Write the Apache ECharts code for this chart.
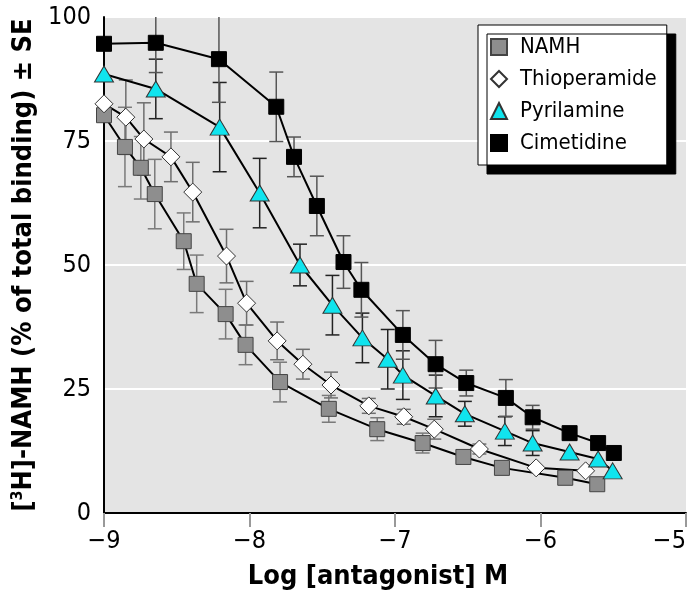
<!DOCTYPE html>
<html>
<head>
<meta charset="utf-8">
<script src="https://cdn.jsdelivr.net/npm/echarts@6/dist/echarts.min.js"></script>
<style>
  html, body { margin: 0; padding: 0; background: #fff; }
  #main { width: 695px; height: 600px; }
</style>
</head>
<body>
<div id="main"></div>
<script>
// log [antagonist] M and % of total binding
var xNamh = [-9, -8.856, -8.747, -8.651, -8.452, -8.363, -8.164, -8.027, -7.79, -7.455, -7.122, -6.81, -6.53, -6.265, -5.83, -5.61];
var yNamh = [80.2, 73.8, 69.6, 64.3, 54.8, 46.2, 40.1, 33.9, 26.4, 21.0, 16.9, 14.1, 11.3, 9.1, 7.1, 5.8];
var eNamh = [0, 8, 6.3, 7, 5.7, 5.8, 5, 4, 4, 2.7, 2.3, 2, 1.2, 0, 0, 0];

var xThio = [-9, -8.85, -8.726, -8.54, -8.39, -8.158, -8.02, -7.81, -7.633, -7.44, -7.18, -6.94, -6.73, -6.42, -6.03, -5.69];
var yThio = [82.5, 79.8, 75.4, 71.8, 64.7, 51.8, 42.3, 34.7, 30.0, 25.8, 21.6, 19.4, 16.9, 12.9, 9.1, 8.5];
var eThio = [0, 7.5, 7.3, 5, 6, 5.4, 4.4, 3.8, 3, 2.6, 1.5, 1.5, 2, 1, 0, 0];

var xPyr = [-9, -8.644, -8.205, -7.93, -7.653, -7.43, -7.224, -7.05, -6.946, -6.72, -6.52, -6.245, -6.054, -5.80, -5.604, -5.504];
var yPyr = [88.5, 85.5, 77.8, 64.5, 50.0, 41.9, 35.3, 31.0, 27.8, 23.6, 20.0, 16.5, 14.1, 12.3, 10.9, 8.5];
var ePyr = [0, 6, 9, 7, 4.2, 6, 5, 6, 4.9, 4.2, 2.5, 2.9, 2.5, 0, 0, 0];

var xCim = [-9, -8.644, -8.21, -7.816, -7.694, -7.537, -7.354, -7.231, -6.946, -6.721, -6.51, -6.238, -6.054, -5.80, -5.604, -5.496];
var yCim = [94.6, 94.8, 91.5, 81.9, 71.8, 61.9, 50.6, 45.0, 35.9, 30.0, 26.2, 23.2, 19.3, 16.1, 14.1, 12.1];
var eCim = [0, 6, 8.7, 7, 4, 6, 5.3, 5.5, 4.9, 4.8, 2.6, 3.7, 2.4, 0, 0, 0];

var xTicks = [-9, -8, -7, -6, -5];
var yTicks = [0, 25, 50, 75, 100];

var FONT = '"Liberation Sans Narrow", "DejaVu Sans Condensed", "Arial Narrow", sans-serif';

function pairs(xs, ys) {
  var out = [];
  for (var i = 0; i < xs.length; i++) out.push([xs[i], ys[i]]);
  return out;
}

function errBars(name, xs, ys, es, color) {
  var data = [];
  for (var i = 0; i < xs.length; i++) {
    if (es[i] > 0) data.push([xs[i], ys[i] - es[i], ys[i] + es[i]]);
  }
  return {
    type: 'custom',
    name: name + ' SE',
    z: 1,
    clip: true,
    silent: true,
    encode: { x: 0, y: [1, 2] },
    data: data,
    renderItem: function (params, api) {
      var x = api.value(0);
      var lo = api.coord([x, api.value(1)]);
      var hi = api.coord([x, api.value(2)]);
      var hw = 7;
      var st = { stroke: color, lineWidth: 1.5 };
      return {
        type: 'group',
        children: [
          { type: 'line', shape: { x1: lo[0], y1: lo[1], x2: hi[0], y2: hi[1] }, style: st },
          { type: 'line', shape: { x1: lo[0] - hw, y1: lo[1], x2: lo[0] + hw, y2: lo[1] }, style: st },
          { type: 'line', shape: { x1: hi[0] - hw, y1: hi[1], x2: hi[0] + hw, y2: hi[1] }, style: st }
        ]
      };
    }
  };
}

function curve(name, xs, ys, symbol, size, item) {
  return {
    name: name,
    type: 'line',
    z: 3,
    data: pairs(xs, ys),
    symbol: symbol,
    symbolSize: size,
    showSymbol: true,
    lineStyle: { color: '#000', width: 2 },
    itemStyle: item
  };
}

var chart = echarts.init(document.getElementById('main'));

var option = {
  animation: false,
  backgroundColor: '#fff',
  grid: {
    left: 104, right: 9, top: 17, bottom: 87,
    show: true, backgroundColor: '#e4e4e4', borderWidth: 0
  },
  legend: {
    orient: 'vertical',
    left: 478, top: 25,
    padding: [11, 10, 11, 12],
    itemGap: 10,
    itemWidth: 16, itemHeight: 16,
    backgroundColor: '#fff',
    borderColor: '#000', borderWidth: 1,
    shadowColor: '#000', shadowBlur: 0, shadowOffsetX: 9, shadowOffsetY: 9,
    textStyle: { fontFamily: FONT, fontSize: 22, color: '#000', padding: [0, 0, 0, 8] },
    data: [
      { name: 'NAMH', icon: 'rect' },
      { name: 'Thioperamide', icon: 'diamond' },
      { name: 'Pyrilamine', icon: 'triangle' },
      { name: 'Cimetidine', icon: 'rect' }
    ]
  },
  xAxis: {
    type: 'value',
    min: -9, max: -5, interval: 1,
    name: 'Log [antagonist] M',
    nameLocation: 'middle',
    nameGap: 50,
    nameTextStyle: { fontFamily: FONT, fontSize: 27, fontWeight: 'bold', color: '#000', padding: [0, 34, 0, 0] },
    axisLine: { show: true, onZero: false, lineStyle: { color: '#000', width: 2 } },
    axisTick: { show: true, length: 14, lineStyle: { color: '#999', width: 2 } },
    axisLabel: {
      margin: 16, fontFamily: FONT, fontSize: 25, color: '#000',
      alignMaxLabel: 'right',
      formatter: function (v) { return xTicks.indexOf(v) < 0 ? '' : String(v).replace('-', '\u2212'); }
    },
    splitLine: { show: false }
  },
  yAxis: {
    type: 'value',
    min: 0, max: 100, interval: 25,
    name: '[{sup|3}H]-NAMH (% of total binding) \u00b1 SE',
    nameLocation: 'middle',
    nameGap: 62,
    nameTextStyle: {
      fontFamily: FONT, fontSize: 27, fontWeight: 'bold', color: '#000',
      rich: { sup: { fontFamily: FONT, fontSize: 16, fontWeight: 'bold', color: '#000', verticalAlign: 'top', padding: [0, 0, 8, 0] } }
    },
    axisLine: { show: true, lineStyle: { color: '#000', width: 2 } },
    axisTick: { show: false },
    axisLabel: {
      margin: 13, fontFamily: FONT, fontSize: 25, color: '#000',
      formatter: function (v) { return yTicks.indexOf(v) < 0 ? '' : String(v); }
    },
    splitLine: { show: true, lineStyle: { color: '#fff', width: 2 } }
  },
  series: [
    errBars('NAMH', xNamh, yNamh, eNamh, '#7a7a7a'),
    errBars('Thioperamide', xThio, yThio, eThio, '#6e6e6e'),
    errBars('Pyrilamine', xPyr, yPyr, ePyr, '#222'),
    errBars('Cimetidine', xCim, yCim, eCim, '#555'),
    curve('NAMH', xNamh, yNamh, 'rect', 15, { color: '#8e8e8e', borderColor: '#444', borderWidth: 1 }),
    curve('Thioperamide', xThio, yThio, 'diamond', 18, { color: '#fff', borderColor: '#333', borderWidth: 1 }),
    curve('Pyrilamine', xPyr, yPyr, 'triangle', [19, 16], { color: '#10e4ee', borderColor: '#333', borderWidth: 1 }),
    curve('Cimetidine', xCim, yCim, 'rect', 15, { color: '#000', borderColor: '#000', borderWidth: 1 })
  ]
};

chart.setOption(option);
</script>
</body>
</html>
